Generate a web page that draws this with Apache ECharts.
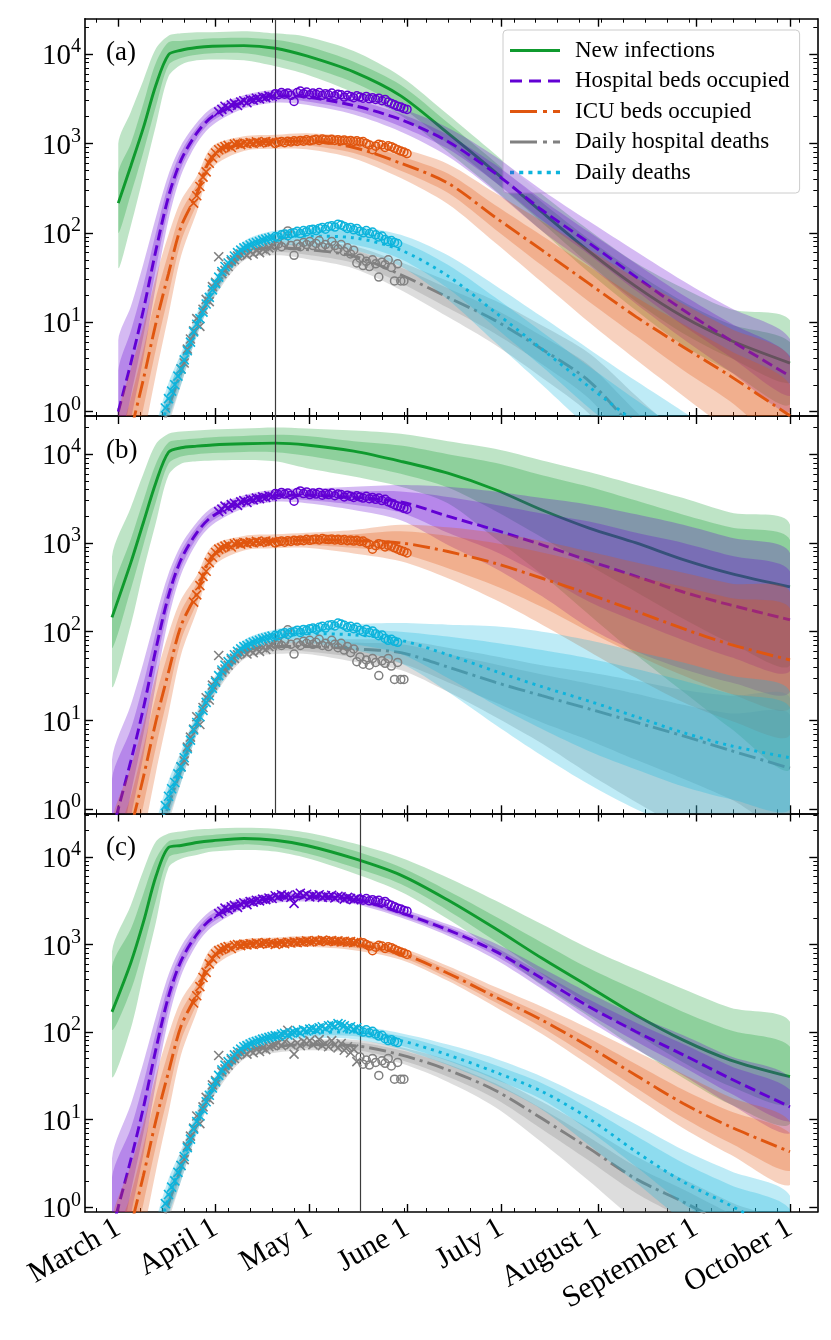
<!DOCTYPE html>
<html>
<head>
<meta charset="utf-8">
<script src="https://cdn.jsdelivr.net/npm/echarts@6/dist/echarts.min.js"></script>
<style>
html, body { margin: 0; padding: 0; background: #fff; }
#chart { width: 831px; height: 1340px; }
</style>
</head>
<body>
<div id="chart"></div>
<script>
// days counted from March 1 (2020)
var MONTH_DAYS = [0, 31, 61, 92, 122, 153, 184, 214];
var MONTH_LABELS = ['March 1', 'April 1', 'May 1', 'June 1', 'July 1', 'August 1', 'September 1', 'October 1'];
var DECADES = [1, 10, 100, 1000, 10000];

// model sample days
var DAYS_A = [0, 4, 8, 12, 16, 20, 25, 30, 40, 50, 60, 75, 90, 105, 120, 135, 150, 165, 180, 195, 214];
var DAYS_BC = [-2, 4, 8, 12, 16, 20, 25, 30, 40, 50, 60, 75, 90, 105, 120, 135, 150, 165, 180, 195, 214];

// ---- panel (a)
var INF_A = [215, 560, 1500, 4500, 9800, 11000, 11800, 12200, 12400, 11600, 9500, 6300, 3400, 1300, 480, 170, 62, 25, 11.5, 6.3, 3.5];
var INF_A_OUT_HI = [1000, 2250, 5100, 11500, 16000, 17000, 17500, 17500, 18000, 17000, 15600, 10800, 5600, 2100, 760, 270, 107, 46, 24, 14, 10.5];
var INF_A_IN_HI = [470, 1000, 2800, 8000, 13500, 14000, 14500, 15000, 15200, 14400, 12300, 8200, 4500, 1700, 620, 220, 85, 36, 17, 9.5, 6];
var INF_A_IN_LO = [100, 270, 800, 2600, 7500, 9000, 9800, 10200, 10200, 9000, 7300, 4800, 2550, 990, 370, 130, 45, 17, 7.5, 4, 2.1];
var INF_A_OUT_LO = [41, 120, 430, 1600, 5600, 7600, 8500, 8700, 8500, 7300, 5900, 3700, 2050, 800, 300, 105, 36, 13.5, 5.5, 2.8, 1.2];

var HOSP_A = [1.0, 3.5, 13.7, 64, 254, 650, 1300, 2000, 2900, 3400, 3300, 2650, 1850, 1050, 465, 180, 77, 32, 13.7, 6.3, 2.5];
var HOSP_A_IN_HI = [2.9, 8, 26, 100, 350, 800, 1500, 2250, 3200, 3750, 3700, 3050, 2150, 1250, 580, 235, 102, 45, 20, 9.8, 4.2];
var HOSP_A_IN_LO = [0.35, 1.5, 7, 40, 185, 530, 1130, 1780, 2650, 3100, 2950, 2350, 1550, 870, 370, 138, 57, 22.5, 9.2, 4.1, 1.5];
var HOSP_A_OUT_HI = [6.3, 15, 45, 150, 450, 950, 1700, 2500, 3450, 4000, 4000, 3400, 2450, 1500, 720, 300, 135, 62, 29, 14.5, 6.5];
var HOSP_A_OUT_LO = [0.15, 0.8, 4, 26, 140, 440, 1000, 1600, 2450, 2850, 2700, 2100, 1350, 720, 290, 105, 43, 16, 6.5, 2.8, 1.0];

var ICU_A = [0.15, 0.6, 2.3, 9.8, 35, 117, 270, 710, 1000, 1050, 1060, 900, 600, 360, 150, 64, 27, 11.5, 5.3, 2.5, 0.9];
var ICU_A_IN_HI = [0.4, 1.4, 5, 19, 60, 170, 350, 820, 1100, 1150, 1180, 1030, 720, 460, 205, 93, 42, 19, 9.5, 4.8, 2];
var ICU_A_IN_LO = [0.06, 0.25, 1.1, 5, 20, 80, 210, 610, 900, 950, 950, 780, 495, 280, 110, 43, 17, 7, 2.9, 1.3, 0.4];
var ICU_A_OUT_HI = [0.9, 3, 9, 32, 95, 230, 430, 930, 1200, 1250, 1300, 1180, 880, 590, 280, 135, 65, 31, 16, 8.5, 4];
var ICU_A_OUT_LO = [0.02, 0.1, 0.5, 2.6, 12, 55, 170, 530, 820, 870, 860, 680, 410, 210, 78, 28, 10, 3.8, 1.5, 0.6, 0.2];

var HDEATH_A = [0.003, 0.015, 0.07, 0.35, 1.1, 2.8, 9, 22, 58, 68, 65, 55, 34, 19, 10.5, 5, 2.2, 0.6, 0.18, 0.05, 0.012];
var HDEATH_A_IN_HI = [0.004, 0.02, 0.09, 0.45, 1.4, 3.4, 10.3, 24.5, 63, 75, 73, 64, 41, 24, 14, 7, 3.3, 1.0, 0.33, 0.1, 0.026];
var HDEATH_A_IN_LO = [0.0023, 0.011, 0.055, 0.27, 0.85, 2.3, 7.8, 19.5, 53, 61, 57, 46, 27.5, 14.5, 7.5, 3.4, 1.4, 0.35, 0.1, 0.024, 0.005];
var HDEATH_A_OUT_HI = [0.005, 0.025, 0.11, 0.55, 1.7, 4, 11.5, 27, 67, 80, 79, 71, 47, 29, 17.5, 9.2, 4.5, 1.5, 0.5, 0.16, 0.045];
var HDEATH_A_OUT_LO = [0.0018, 0.009, 0.045, 0.22, 0.7, 2, 7, 17.5, 49, 56, 51, 40, 23, 11.5, 5.6, 2.4, 0.95, 0.22, 0.06, 0.013, 0.003];

var DEATH_A = [0.004, 0.02, 0.08, 0.4, 1.3, 3.0, 9.5, 23, 68, 88, 92, 88, 64, 33, 13, 5, 1.9, 0.75, 0.3, 0.12, 0.04];
var DEATH_A_IN_HI = [0.006, 0.03, 0.11, 0.55, 1.7, 3.8, 11, 26, 75, 98, 105, 104, 80, 44, 19, 7.8, 3.2, 1.35, 0.58, 0.25, 0.09];
var DEATH_A_IN_LO = [0.003, 0.013, 0.055, 0.3, 1.0, 2.4, 8, 20, 61, 79, 80, 74, 51, 24, 8.8, 3.2, 1.1, 0.42, 0.15, 0.055, 0.016];
var DEATH_A_OUT_HI = [0.008, 0.04, 0.15, 0.7, 2.1, 4.5, 12.5, 28.5, 80, 106, 115, 118, 95, 56, 26, 11.5, 5, 2.2, 1.0, 0.45, 0.17];
var DEATH_A_OUT_LO = [0.002, 0.01, 0.04, 0.22, 0.8, 2.0, 7, 18, 56, 72, 71, 64, 42, 18, 6, 2, 0.65, 0.22, 0.075, 0.025, 0.007];

// ---- panel (b)
var INF_B = [145, 600, 1700, 4800, 10500, 11800, 12300, 12700, 13100, 13300, 12700, 10800, 8300, 6100, 4000, 2350, 1470, 1000, 650, 455, 320];
var INF_B_OUT_HI = [700, 2500, 6000, 13000, 17000, 18000, 18500, 19000, 19500, 20000, 19500, 18500, 17000, 14000, 11500, 8500, 6300, 4500, 3200, 2200, 1600];
var INF_B_IN_HI = [270, 1100, 3000, 7800, 13500, 14500, 15000, 15500, 16000, 16500, 16000, 14000, 12500, 10000, 8000, 5800, 4300, 3000, 2080, 1500, 1080];
var INF_B_IN_LO = [65, 300, 950, 2900, 7800, 9400, 10000, 10300, 10600, 10500, 9600, 7800, 6000, 4200, 2300, 1150, 560, 280, 140, 75, 42];
var INF_B_OUT_LO = [24, 120, 480, 1700, 5800, 7800, 8300, 8500, 8600, 8300, 6950, 5600, 4300, 2800, 1130, 440, 155, 55, 21, 8.2, 2.9];

var HOSP_B = [0.55, 3.5, 13.7, 64, 254, 650, 1300, 2000, 2900, 3450, 3450, 3250, 2900, 2000, 1400, 950, 630, 420, 280, 200, 136];
var HOSP_B_IN_HI = [2.2, 8, 26, 100, 350, 800, 1500, 2250, 3200, 3750, 3800, 3800, 3800, 3300, 2700, 2150, 1740, 1300, 1000, 720, 475];
var HOSP_B_IN_LO = [0.13, 1.5, 7, 40, 185, 530, 1130, 1780, 2650, 3150, 3050, 2700, 2200, 1300, 800, 430, 218, 130, 80, 52, 36];
var HOSP_B_OUT_HI = [3.6, 15, 45, 150, 450, 950, 1700, 2500, 3450, 4000, 4100, 4300, 4500, 4300, 3800, 3200, 2700, 2100, 1600, 1150, 770];
var HOSP_B_OUT_LO = [0.05, 0.8, 4, 26, 140, 440, 1000, 1600, 2450, 2900, 2800, 2350, 1800, 950, 520, 250, 110, 60, 38, 27, 21];

var ICU_B = [0.08, 0.6, 2.3, 9.8, 35, 117, 270, 710, 1000, 1050, 1080, 1060, 1000, 800, 590, 400, 265, 170, 108, 72, 48];
var ICU_B_IN_HI = [0.3, 1.4, 5, 19, 60, 170, 350, 820, 1100, 1150, 1200, 1250, 1350, 1200, 1000, 780, 580, 420, 320, 240, 183];
var ICU_B_IN_LO = [0.02, 0.25, 1.1, 5, 20, 80, 210, 610, 900, 950, 950, 880, 760, 520, 330, 190, 100, 55, 32, 20, 13.7];
var ICU_B_OUT_HI = [0.7, 3, 9, 32, 95, 230, 430, 930, 1200, 1250, 1300, 1400, 1600, 1500, 1300, 1050, 800, 600, 460, 350, 280];
var ICU_B_OUT_LO = [0.008, 0.1, 0.5, 2.6, 12, 55, 170, 530, 820, 870, 880, 760, 620, 400, 230, 120, 60, 30, 16, 10, 6.9];

var HDEATH_B = [0.001, 0.015, 0.07, 0.35, 1.1, 2.8, 9, 22, 58, 68, 68, 64, 58, 40, 27, 19, 13.5, 9.5, 6.7, 4.6, 2.9];
var HDEATH_B_IN_HI = [0.0015, 0.02, 0.09, 0.45, 1.4, 3.4, 10.3, 24.5, 63, 75, 76, 75, 72, 56, 43, 33, 26, 20, 15, 12, 11.5];
var HDEATH_B_IN_LO = [0.0007, 0.011, 0.055, 0.27, 0.85, 2.3, 7.8, 19.5, 53, 61, 60, 52, 44, 27, 16, 9.5, 6, 3.6, 2.2, 1.3, 0.6];
var HDEATH_B_OUT_HI = [0.002, 0.025, 0.11, 0.55, 1.7, 4, 11.5, 27, 67, 80, 80, 82, 80, 66, 53, 42, 35, 28, 22, 19, 17.8];
var HDEATH_B_OUT_LO = [0.0005, 0.009, 0.045, 0.22, 0.7, 2, 7, 17.5, 49, 56, 56, 46, 37, 21, 11, 5.5, 2.5, 1.2, 0.6, 0.3, 0.15];

var DEATH_B = [0.001, 0.02, 0.08, 0.4, 1.3, 3.0, 9.5, 23, 68, 88, 95, 92, 80, 55, 36, 24, 16.5, 11, 7.3, 5.2, 3.8];
var DEATH_B_IN_HI = [0.002, 0.03, 0.11, 0.55, 1.7, 3.8, 11, 26, 75, 98, 108, 105, 100, 88, 75, 62, 50, 38, 28, 20, 14];
var DEATH_B_IN_LO = [0.0007, 0.013, 0.055, 0.3, 1.0, 2.4, 8, 20, 61, 79, 82, 72, 56, 30, 15, 8, 4.5, 2.8, 1.8, 1.3, 1.0];
var DEATH_B_OUT_HI = [0.003, 0.04, 0.15, 0.7, 2.1, 4.5, 12.5, 28.5, 80, 106, 118, 122, 125, 120, 115, 100, 80, 60, 45, 32, 21];
var DEATH_B_OUT_LO = [0.0005, 0.01, 0.04, 0.22, 0.8, 2.0, 7, 18, 56, 72, 75, 62, 44, 21, 9, 4, 1.9, 1.0, 0.6, 0.45, 0.4];

// ---- panel (c)
var INF_C = [170, 620, 1800, 6000, 12800, 13500, 14600, 15300, 16200, 15500, 13500, 9600, 6200, 3220, 1530, 695, 330, 156, 81, 48, 31];
var INF_C_OUT_HI = [830, 2800, 7000, 15000, 18500, 19500, 20500, 21000, 21500, 21000, 19000, 14300, 9800, 5800, 3200, 1700, 900, 520, 310, 190, 131];
var INF_C_IN_HI = [560, 1500, 3800, 9500, 15000, 16000, 17200, 17800, 18700, 18200, 16200, 11800, 7600, 4100, 2100, 1050, 535, 300, 170, 105, 68];
var INF_C_IN_LO = [106, 300, 900, 3200, 9800, 11000, 12000, 12800, 13900, 13000, 11000, 7600, 4900, 2450, 1100, 460, 205, 95, 45, 24, 15];
var INF_C_OUT_LO = [31, 110, 450, 1800, 7500, 9500, 10500, 11500, 12000, 11500, 9700, 6500, 4000, 1950, 850, 340, 150, 65, 30, 15, 9];

var HOSP_C = [0.55, 3.5, 13.7, 64, 254, 650, 1300, 2000, 2950, 3400, 3500, 3300, 2300, 1470, 840, 410, 195, 101, 55, 29.5, 14];
var HOSP_C_IN_HI = [2.2, 8, 26, 100, 350, 800, 1500, 2250, 3200, 3700, 3750, 3550, 2450, 1590, 930, 470, 235, 128, 73, 41, 22];
var HOSP_C_IN_LO = [0.13, 1.5, 7, 40, 185, 530, 1130, 1780, 2700, 3150, 3250, 3050, 2150, 1350, 750, 350, 160, 78, 40, 20, 9.5];
var HOSP_C_OUT_HI = [3.6, 15, 45, 150, 450, 950, 1700, 2500, 3400, 3850, 3900, 3700, 2600, 1700, 1030, 540, 280, 155, 92, 53, 30];
var HOSP_C_OUT_LO = [0.05, 0.8, 4, 26, 140, 440, 1000, 1600, 2550, 3000, 3100, 2900, 2030, 1260, 680, 310, 135, 64, 32, 15, 7];

var ICU_C = [0.08, 0.6, 2.3, 9.8, 35, 117, 270, 710, 1000, 1050, 1080, 1000, 790, 470, 253, 137, 68, 32, 15.3, 8.3, 4.3];
var ICU_C_IN_HI = [0.3, 1.4, 5, 19, 60, 170, 350, 820, 1080, 1120, 1170, 1090, 860, 520, 285, 160, 85, 43, 22, 12.5, 7];
var ICU_C_IN_LO = [0.02, 0.25, 1.1, 5, 20, 80, 210, 610, 920, 980, 1000, 920, 720, 420, 220, 113, 52, 23, 10.5, 5.4, 2.6];
var ICU_C_OUT_HI = [0.7, 3, 9, 32, 95, 230, 430, 930, 1150, 1200, 1250, 1170, 920, 570, 330, 195, 110, 60, 33, 18, 9.5];
var ICU_C_OUT_LO = [0.008, 0.1, 0.5, 2.6, 12, 55, 170, 530, 870, 920, 940, 860, 670, 385, 195, 95, 42, 18, 8, 4, 1.8];

var HDEATH_C = [0.001, 0.015, 0.07, 0.35, 1.1, 2.8, 9, 22, 58, 68, 72, 70, 55, 37, 21.7, 10.3, 4.7, 2.1, 1.15, 0.6, 0.25];
var HDEATH_C_IN_HI = [0.0015, 0.02, 0.09, 0.45, 1.4, 3.4, 10.3, 24.5, 63, 74, 77, 77, 62, 43, 26, 13.3, 6.3, 2.9, 1.6, 0.85, 0.4];
var HDEATH_C_IN_LO = [0.0007, 0.011, 0.055, 0.27, 0.85, 2.3, 7.8, 19.5, 53, 62, 66, 63, 48, 31, 17.5, 7.8, 3.4, 1.45, 0.75, 0.38, 0.15];
var HDEATH_C_OUT_HI = [0.002, 0.025, 0.11, 0.55, 1.7, 4, 11.5, 27, 67, 78, 81, 82, 67, 48, 30, 16, 8, 3.8, 2.1, 1.15, 0.55];
var HDEATH_C_OUT_LO = [0.0005, 0.009, 0.045, 0.22, 0.7, 2, 7, 17.5, 49, 58, 62, 58, 44, 27, 14, 5.5, 2.0, 0.7, 0.3, 0.12, 0.05];

var DEATH_C = [0.001, 0.02, 0.08, 0.4, 1.3, 3.0, 9.5, 23, 68, 88, 98, 100, 80, 55, 35, 21, 10.3, 4.3, 1.95, 1.05, 0.45];
var DEATH_C_IN_HI = [0.002, 0.03, 0.11, 0.55, 1.7, 3.8, 11, 26, 74, 96, 106, 110, 90, 64, 42, 26, 13.5, 6.5, 3.2, 1.8, 0.95];
var DEATH_C_IN_LO = [0.0007, 0.013, 0.055, 0.3, 1.0, 2.4, 8, 20, 62, 80, 90, 90, 70, 47, 29, 17, 7.5, 2.9, 1.1, 0.5, 0.2];
var DEATH_C_OUT_HI = [0.003, 0.04, 0.15, 0.7, 2.1, 4.5, 12.5, 28.5, 79, 102, 112, 118, 97, 72, 50, 31, 17, 8.8, 4.5, 2.6, 1.35];
var DEATH_C_OUT_LO = [0.0005, 0.01, 0.04, 0.22, 0.8, 2.0, 7, 18, 58, 75, 84, 83, 64, 42, 25, 13, 5.1, 1.9, 0.7, 0.3, 0.12];

// ---- observed data (one value per day)
var HOSP_OBS_START = 32;
var HOSP_OBS = [2250, 2400, 2600, 2500, 2700, 2800, 2650, 2900, 3000, 2850, 3100, 3050, 3200, 3150, 3300, 3250, 3400, 3350, 3600, 3500,
  3700, 3550, 3650, 3450, 2950, 3700, 3850, 3600, 3750, 3500, 3650, 3550, 3700, 3450, 3600, 3500, 3650, 3400, 3550, 3500,
  3300, 3450, 3350, 3250, 3400, 3300, 3200, 3350, 3150, 3250, 3100, 3200, 3000, 3100, 2900, 2800, 2700, 2600, 2550, 2450, 2400];
var ICU_OBS_START = 24;
var ICU_OBS = [215, 260, 330, 420, 480, 600, 690, 780, 850, 880, 920, 950, 900, 980, 1000, 970, 1010, 990, 1020, 1000,
  1040, 1010, 1030, 1050, 1020, 1040, 1000, 1030, 1050, 1020, 1060, 1040, 1070, 1050, 1080, 1060, 1100, 1070, 1090, 1110,
  1080, 1120, 1100, 1090, 1110, 1080, 1100, 1070, 1090, 1060, 1080, 1050, 1070, 1040, 1050, 1000, 960, 850, 930, 980,
  960, 900, 940, 920, 880, 850, 820, 800, 770];
var HDEATH_OBS_START = 20;
var HDEATH_OBS = [3, 3.5, 5, 6.5, 8, 11, 9, 14, 18, 17, 25, 28, 54, 35, 38, 42, 48, 50, 55, 58,
  60, 56, 62, 58, 64, 60, 66, 63, 68, 70, 72, 75, 70, 78, 105, 72, 56, 75, 70, 78,
  74, 80, 72, 76, 82, 70, 74, 68, 80, 72, 66, 74, 62, 68, 58, 64, 46, 52, 43, 48,
  42, 50, 45, 32, 47, 44, 50, 41, 29, 45, 29, 29];
var DEATH_OBS_START = 15;
var DEATH_OBS = [1.1, 1.4, 1.7, 2.0, 2.5, 3.0, 3.8, 4.8, 6.0, 7.8, 9.5, 11, 13, 16, 19, 23, 27, 32, 37, 42,
  46, 50, 55, 60, 64, 68, 70, 73, 76, 78, 80, 83, 85, 87, 89, 91, 90, 95, 97, 93,
  98, 100, 104, 98, 106, 103, 108, 110, 106, 112, 115, 110, 118, 120, 116, 125, 122, 118, 112, 115,
  108, 112, 104, 100, 106, 98, 102, 95, 90, 92, 84, 80, 82, 78, 76];

// ---------------------------------------------------------------------------
var SERIF = '"Liberation Serif", "DejaVu Serif", serif';
var X_MIN = -10.6, X_MAX = 222.7;
var NAMES = ['New infections', 'Hospital beds occupied', 'ICU beds occupied', 'Daily hospital deaths', 'Daily deaths'];
var COLORS = ['#0f9a2e', '#6200d4', '#e0560f', '#808080', '#0db4dc'];
var BAND_RGB = ['15,154,46', '98,0,212', '224,86,15', '128,128,128', '13,180,220'];
var DASHES = ['solid', [11, 5], [17, 5, 3, 5], [17, 5, 3, 5], [3, 5]];
var ICONS = [
  'path://M0,0H50V3H0Z',
  'path://M0,0h12v3h-12z M19,0h12v3h-12z M38,0h12v3h-12z',
  'path://M0,0h27v3h-27z M33,0h4v3h-4z M43,0h7v3h-7z',
  'path://M0,0h27v3h-27z M33,0h4v3h-4z M43,0h7v3h-7z',
  'path://M0,0h4v3.5h-4z M9,0h4v3.5h-4z M18,0h4v3.5h-4z M27,0h4v3.5h-4z M36,0h4v3.5h-4z M45,0h4v3.5h-4z'
];
var X_PATH = 'path://M0,0L10,10M10,0L0,10';

var OBS = [null,
  {start: HOSP_OBS_START, vals: HOSP_OBS},
  {start: ICU_OBS_START, vals: ICU_OBS},
  {start: HDEATH_OBS_START, vals: HDEATH_OBS},
  {start: DEATH_OBS_START, vals: DEATH_OBS}];

var PANELS = [
  {top: 18.7, height: 397.3, ymin: 0.895, ymax: 24800, cut: 50, label: '(a)', days: DAYS_A, curves: [
    [INF_A, INF_A_IN_LO, INF_A_IN_HI, INF_A_OUT_LO, INF_A_OUT_HI],
    [HOSP_A, HOSP_A_IN_LO, HOSP_A_IN_HI, HOSP_A_OUT_LO, HOSP_A_OUT_HI],
    [ICU_A, ICU_A_IN_LO, ICU_A_IN_HI, ICU_A_OUT_LO, ICU_A_OUT_HI],
    [HDEATH_A, HDEATH_A_IN_LO, HDEATH_A_IN_HI, HDEATH_A_OUT_LO, HDEATH_A_OUT_HI],
    [DEATH_A, DEATH_A_IN_LO, DEATH_A_IN_HI, DEATH_A_OUT_LO, DEATH_A_OUT_HI]]},
  {top: 416, height: 397.3, ymin: 0.90, ymax: 26900, cut: 50, label: '(b)', days: DAYS_BC, curves: [
    [INF_B, INF_B_IN_LO, INF_B_IN_HI, INF_B_OUT_LO, INF_B_OUT_HI],
    [HOSP_B, HOSP_B_IN_LO, HOSP_B_IN_HI, HOSP_B_OUT_LO, HOSP_B_OUT_HI],
    [ICU_B, ICU_B_IN_LO, ICU_B_IN_HI, ICU_B_OUT_LO, ICU_B_OUT_HI],
    [HDEATH_B, HDEATH_B_IN_LO, HDEATH_B_IN_HI, HDEATH_B_OUT_LO, HDEATH_B_OUT_HI],
    [DEATH_B, DEATH_B_IN_LO, DEATH_B_IN_HI, DEATH_B_OUT_LO, DEATH_B_OUT_HI]]},
  {top: 813.5, height: 398.5, ymin: 0.883, ymax: 31300, cut: 77, label: '(c)', days: DAYS_BC, curves: [
    [INF_C, INF_C_IN_LO, INF_C_IN_HI, INF_C_OUT_LO, INF_C_OUT_HI],
    [HOSP_C, HOSP_C_IN_LO, HOSP_C_IN_HI, HOSP_C_OUT_LO, HOSP_C_OUT_HI],
    [ICU_C, ICU_C_IN_LO, ICU_C_IN_HI, ICU_C_OUT_LO, ICU_C_OUT_HI],
    [HDEATH_C, HDEATH_C_IN_LO, HDEATH_C_IN_HI, HDEATH_C_OUT_LO, HDEATH_C_OUT_HI],
    [DEATH_C, DEATH_C_IN_LO, DEATH_C_IN_HI, DEATH_C_OUT_LO, DEATH_C_OUT_HI]]}
];

// minor ticks: every Sunday on x, 2..9 x 10^k on y
var SUNDAYS = [];
for (var d = -7; d <= X_MAX; d += 7) { if (d !== 0) SUNDAYS.push(d); }
function minorY(ymax) {
  var out = [];
  for (var k = 0; k < 5; k++) {
    for (var m = 2; m < 10; m++) {
      var v = m * Math.pow(10, k);
      if (v < ymax) out.push(v);
    }
  }
  return out;
}

var grids = [], xAxes = [], yAxes = [], series = [], titles = [];

PANELS.forEach(function (p, g) {
  grids.push({left: 85, width: 732.3, top: p.top, height: p.height});
  titles.push({text: p.label, left: 106, top: p.top + 21, padding: 0,
    textStyle: {fontFamily: SERIF, fontSize: 27, fontWeight: 'normal', color: '#000'}});

  ['bottom', 'top'].forEach(function (pos) {
    xAxes.push({
      type: 'value', gridIndex: g, position: pos, min: X_MIN, max: X_MAX,
      axisLine: {show: true, onZero: false, lineStyle: {color: '#000', width: 1.6}},
      axisTick: {show: true, inside: true, length: 8, customValues: MONTH_DAYS, lineStyle: {color: '#000', width: 1.4}},
      axisLabel: {
        show: (g === 2 && pos === 'bottom'), customValues: MONTH_DAYS, rotate: 30, margin: 14,
        fontFamily: SERIF, fontSize: 30, color: '#000',
        formatter: function (v) { var i = MONTH_DAYS.indexOf(v); return i < 0 ? '' : MONTH_LABELS[i]; }
      },
      splitLine: {show: false}
    });
  });
  ['bottom', 'top'].forEach(function (pos) {
    xAxes.push({
      type: 'value', gridIndex: g, position: pos, min: X_MIN, max: X_MAX,
      axisLine: {show: false, onZero: false},
      axisTick: {show: true, inside: true, length: 4, customValues: SUNDAYS, lineStyle: {color: '#000', width: 1}},
      axisLabel: {show: false}, splitLine: {show: false}
    });
  });

  ['left', 'right'].forEach(function (pos) {
    yAxes.push({
      type: 'log', logBase: 10, gridIndex: g, position: pos, min: p.ymin, max: p.ymax,
      axisLine: {show: true, onZero: false, lineStyle: {color: '#000', width: 1.6}},
      axisTick: {show: true, inside: true, length: 8, customValues: DECADES, lineStyle: {color: '#000', width: 1.4}},
      axisLabel: {
        show: pos === 'left', customValues: DECADES, margin: 4,
        formatter: function (v) { return '{b|10}{s|' + Math.round(Math.log10(v)) + '}'; },
        rich: {
          b: {fontFamily: SERIF, fontSize: 29, color: '#000', lineHeight: 34, verticalAlign: 'bottom'},
          s: {fontFamily: SERIF, fontSize: 20, color: '#000', lineHeight: 34, verticalAlign: 'top'}
        }
      },
      splitLine: {show: false}
    });
  });
  ['left', 'right'].forEach(function (pos) {
    yAxes.push({
      type: 'log', logBase: 10, gridIndex: g, position: pos, min: p.ymin, max: p.ymax,
      axisLine: {show: false, onZero: false},
      axisTick: {show: true, inside: true, length: 4, customValues: minorY(p.ymax), lineStyle: {color: '#000', width: 1}},
      axisLabel: {show: false}, splitLine: {show: false}
    });
  });

  var xi = 4 * g, yi = 4 * g;
  p.curves.forEach(function (c, k) {
    var line = c[0], inLo = c[1], inHi = c[2], outLo = c[3], outHi = c[4];
    [[outLo, outHi], [inLo, inHi]].forEach(function (band, b) {
      var lo = band[0], hi = band[1], days = p.days;
      series.push({
        type: 'custom', xAxisIndex: xi, yAxisIndex: yi, silent: true, z: 1 + k * 4 + b,
        data: days.map(function (d, i) { return [d, hi[i]]; }),
        renderItem: function (params, api) {
          if (params.dataIndex !== 0) return null;
          var pts = [], i;
          for (i = 0; i < days.length; i++) pts.push(api.coord([days[i], hi[i]]));
          for (i = days.length - 1; i >= 0; i--) pts.push(api.coord([days[i], lo[i]]));
          var cs = params.coordSys;
          var x0 = pts[0][0], x1 = pts[days.length - 1][0];
          return {
            type: 'polygon',
            shape: {points: pts, smooth: 0.3, smoothConstraint: [[x0, -1e6], [x1, 1e6]]},
            style: {fill: 'rgba(' + BAND_RGB[k] + ',0.27)'},
            clipPath: {type: 'rect', shape: {x: cs.x, y: cs.y, width: cs.width, height: cs.height}}
          };
        }
      });
    });
    var ls = {
      type: 'line', name: NAMES[k], xAxisIndex: xi, yAxisIndex: yi, silent: true, z: 3 + k * 4,
      data: p.days.map(function (d, i) { return [d, line[i]]; }),
      symbol: 'none', showSymbol: false, smooth: 0.3, clip: true,
      lineStyle: {color: COLORS[k], width: 2.9, type: DASHES[k]},
      itemStyle: {color: COLORS[k]}
    };
    if (k === 4) {
      ls.markLine = {
        silent: true, symbol: 'none', label: {show: false}, animation: false,
        lineStyle: {color: '#3c3c3c', width: 1.2, type: 'solid'},
        data: [{xAxis: p.cut}]
      };
    }
    series.push(ls);

    if (OBS[k]) {
      var before = [], after = [];
      OBS[k].vals.forEach(function (v, i) {
        var d = OBS[k].start + i;
        (d < p.cut ? before : after).push([d, v]);
      });
      series.push({
        type: 'scatter', xAxisIndex: xi, yAxisIndex: yi, silent: true, z: 30 + k,
        data: before, symbol: X_PATH, symbolSize: 9,
        itemStyle: {color: 'rgba(0,0,0,0)', borderColor: COLORS[k], borderWidth: 1.6, opacity: 1}
      });
      series.push({
        type: 'scatter', xAxisIndex: xi, yAxisIndex: yi, silent: true, z: 30 + k,
        data: after, symbol: 'circle', symbolSize: 8,
        itemStyle: {color: 'rgba(0,0,0,0)', borderColor: COLORS[k], borderWidth: 1.5, opacity: 1}
      });
    }
  });
});

var chart = echarts.init(document.getElementById('chart'));
chart.setOption({
  animation: false,
  backgroundColor: '#fff',
  title: titles,
  legend: {
    selectedMode: false, orient: 'vertical', left: 503, top: 30,
    padding: [9, 10, 9, 7], itemWidth: 50, itemHeight: 14, itemGap: 7.5,
    backgroundColor: 'rgba(255,255,255,0.8)', borderColor: '#cccccc', borderWidth: 1, borderRadius: 4,
    textStyle: {fontFamily: SERIF, fontSize: 23, color: '#000', padding: [0, 0, 0, 10]},
    data: NAMES.map(function (n, k) { return {name: n, icon: ICONS[k]}; })
  },
  grid: grids,
  xAxis: xAxes,
  yAxis: yAxes,
  series: series
});
</script>
</body>
</html>
